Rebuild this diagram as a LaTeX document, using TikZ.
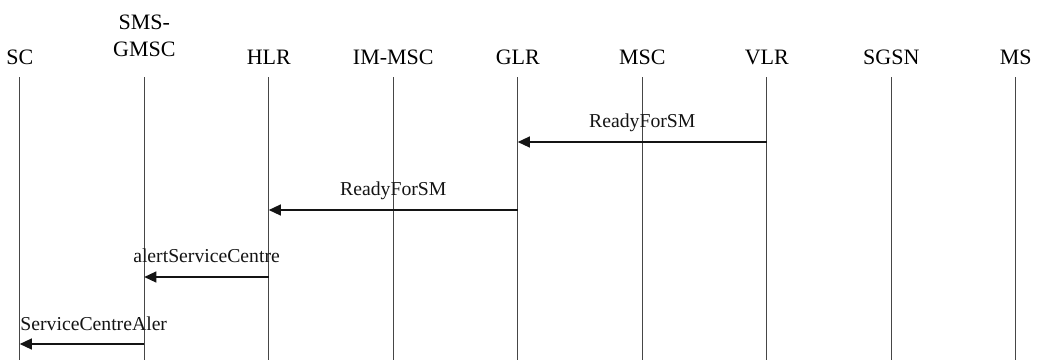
\documentclass[tikz,border=0pt]{standalone}
\usepackage{fontspec}
\setmainfont{Liberation Serif}
\usepackage{tikz}
\usetikzlibrary{positioning, arrows.meta, calc}
\definecolor{MSCBlack}{RGB}{20,20,20}
\definecolor{MSCGray}{RGB}{70,70,70}

\begin{document}
\begin{tikzpicture}[
          x=1pt, y=-1pt,
          hd/.style={font=\fontsize{22}{27}\selectfont, inner sep=0pt},
          lbl/.style={font=\fontsize{19.7}{22}\selectfont, inner sep=0pt},
          life/.style={MSCGray, line width=1pt},
          msg/.style={MSCBlack, line width=1.3pt,
                      -{Triangle[length=12pt, width=11pt]}}
        ]
        \useasboundingbox (0,0) rectangle (1037,360);

        % Lifelines with their headers
        \foreach \i/\x in {
          SC/19.8, HLR/268.8, IMMSC/393.3, GLR/517.8,
          MSC/642.3, VLR/766.8, SGSN/891.3, MS/1015.8} {
          \coordinate (\i t) at (\x, 77);
          \coordinate (\i b) at (\x, 360);
          \draw[life] (\i t) -- (\i b);
        }
        \coordinate (GMSCt) at (144.3, 77);
        \coordinate (GMSCb) at (144.3, 360);
        \draw[life] (GMSCt) -- (GMSCb);

        \node[hd, anchor=base] (hSC) at (19.8, 64) {SC};
        \node[hd, anchor=south, align=center] (hGMSC) at (144.3, 57)
              {SMS-\\GMSC};
        \node[hd, anchor=base] (hHLR) at (268.8, 64) {HLR};
        \node[hd, anchor=base] (hIMMSC) at (393.3, 64) {IM-MSC};
        \node[hd, anchor=base] (hGLR) at (517.8, 64) {GLR};
        \node[hd, anchor=base] (hMSC) at (642.3, 64) {MSC};
        \node[hd, anchor=base] (hVLR) at (766.8, 64) {VLR};
        \node[hd, anchor=base] (hSGSN) at (891.3, 64) {SGSN};
        \node[hd, anchor=base] (hMS) at (1015.8, 64) {MS};

        % Messages
        \draw[msg] (VLRt |- 0,142) -- (GLRt |- 0,142)
              node[lbl, midway, anchor=base, yshift=15pt] (mReady1) {ReadyForSM};
        \draw[msg] (GLRt |- 0,210) -- (HLRt |- 0,210)
              node[lbl, midway, anchor=base, yshift=15pt] (mReady2) {ReadyForSM};
        \draw[msg] (HLRt |- 0,277) -- (GMSCt |- 0,277)
              node[lbl, midway, anchor=base, yshift=15pt] (mAlert)
              {alertServiceCentre};
        \draw[msg] (GMSCt |- 0,344) -- (SCt |- 0,344)
              node[lbl, pos=1, anchor=base west, yshift=14pt] (mSCAlert)
              {ServiceCentreAler};
      \end{tikzpicture}
\end{document}
